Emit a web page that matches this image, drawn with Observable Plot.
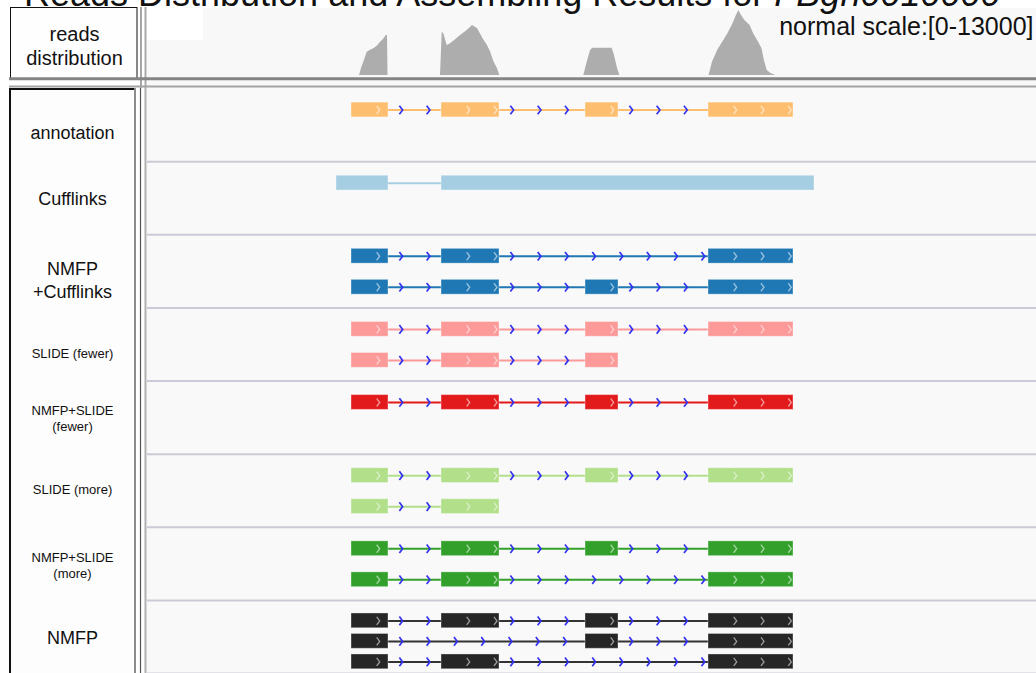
<!DOCTYPE html>
<html><head><meta charset="utf-8">
<script src="https://cdn.jsdelivr.net/npm/d3@7"></script>
<script src="https://cdn.jsdelivr.net/npm/@observablehq/plot@0.6"></script>
<style>
html,body{margin:0;padding:0;background:#fff;}
#wrap{position:relative;width:1036px;height:673px;overflow:hidden;font-family:"Liberation Sans",Arial,Helvetica,sans-serif;}
#title{position:absolute;left:24px;top:-24px;font-size:36px;line-height:36px;white-space:nowrap;color:#111;z-index:2;}
#chart svg{display:block;}
</style></head><body>
<div id="wrap"><div id="title">Reads Distribution and Assembling Results for <i>FBgn0010000</i></div><div id="chart"></div></div>
<script>
// ---- data (genomic positions in bp from region start) ----
const exonStarts = [2040, 2940, 4380, 5610];
const exonEnds   = [2410, 3520, 4710, 6460];
const cufflinksStarts = [1890, 2940];
const cufflinksEnds   = [2410, 6670];
const trackNames = ["annotation", "Cufflinks", "NMFP\n+Cufflinks", "SLIDE (fewer)", "NMFP+SLIDE\n(fewer)", "SLIDE (more)", "NMFP+SLIDE\n(more)", "NMFP"];
// transcripts of each track, as lists of exon indexes
const annotationModels   = [[0, 1, 2, 3]];
const nmfpCufflinks      = [[0, 1, 3], [0, 1, 2, 3]];
const slideFewer         = [[0, 1, 2, 3], [0, 1, 2]];
const nmfpSlideFewer     = [[0, 1, 2, 3]];
const slideMore          = [[0, 1, 2, 3], [0, 1]];
const nmfpSlideMore      = [[0, 1, 2, 3], [0, 1, 3]];
const nmfpModels         = [[0, 1, 2, 3], [0, 2, 3], [0, 1, 3]];
// read coverage
const readsPos = [2120,2140,2163,2197,2230,2263,2300,2330,2360,2387,2400,2405,
  2930,2947,2963,2997,3030,3080,3130,3197,3250,3300,3360,3397,3430,3463,3500,3523,
  4363,4397,4430,4453,4647,4670,4697,4723,
  5615,5650,5701,5752,5804,5855,5889,5913,5940,5974,6026,6060,6111,6145,6169,6197,6231,6282];
const readsDepth = [0,1360,2580,4520,4900,5180,5700,6460,7000,7760,7760,0,
  0,8400,8090,5820,6150,6930,7760,8730,9700,9120,7000,5900,4600,2700,1300,0,
  0,2580,4850,5300,5300,3880,1610,0,
  0,2580,4850,6460,8090,10030,11640,12610,11640,10670,9700,8150,6460,5180,2910,970,450,0];
const scaleMax = 13000;

// ---- styles / layout ----
const trackColors = ["#fdbf6f", "#a6cee3", "#1f78b4", "#fb9a99", "#e31a1c", "#b2df8a", "#33a02c", "#262626"];
const intronColors = ["#fdbf6f", "#a6cee3", "#1f78b4", "#fb9a99", "#e31a1c", "#b2df8a", "#33a02c", "#333333"];
const labelDy = [6.5, 0, 8, 8.5, 0, -1.5, 1.5, 0];
const labelSize = [18, 18, 18, 13, 13, 13, 13, 18];
const labelLead = [1.25, 1.25, 1.28, 1.25, 1.23, 1.25, 1.23, 1.25];
const W = 1036, LEFT = 147, TOPH = 88, BOTH = 585, NT = 8;
const TRACK_PX = BOTH / NT;
const HALF = 7.4 / TRACK_PX;
const xDomain = [0, (W - LEFT) * 10];
const rowY = (t, r, n) => t + ((n > 2 ? 20.5 : 21.5) + r * (n > 2 ? 20.5 : 31)) / TRACK_PX;

// ---- build tables ----
const exonRects = [], introns = [], intronArrows = [], exonArrows = [];
function addTranscript(t, r, n, segs, arrows) {
  const y = rowY(t, r, n);
  segs.forEach(([s, e], i) => {
    exonRects.push({x1: s, x2: e, y, color: trackColors[t]});
    if (arrows) for (let p = s + 267; p < e; p += 273) exonArrows.push({x: p, y});
    if (i < segs.length - 1) {
      const ns = segs[i + 1][0];
      introns.push({x1: e, x2: ns, y, color: intronColors[t]});
      if (arrows) for (let p = e + 125; p < ns; p += 273) intronArrows.push({x: p, y});
    }
  });
}
const models = [annotationModels, null, nmfpCufflinks, slideFewer, nmfpSlideFewer, slideMore, nmfpSlideMore, nmfpModels];
models.forEach((m, t) => {
  if (!m) {
    addTranscript(t, 0, 1, cufflinksStarts.map((s, i) => [s, cufflinksEnds[i]]), false);
    return;
  }
  m.forEach((ids, r) => addTranscript(t, r, m.length, ids.map(i => [exonStarts[i], exonEnds[i]]), true));
});
const reads = readsPos.map((p, i) => ({pos: p, depth: readsDepth[i]}));

const chevron = {draw(ctx, size) {
  const r = Math.sqrt(size / Math.PI);
  ctx.moveTo(-r * 0.38, -r); ctx.lineTo(r * 0.38, 0); ctx.lineTo(-r * 0.38, r);
}};
const font = '"Liberation Sans", Arial, Helvetica, sans-serif';

// ---- top panel: reads distribution ----
const topPlot = Plot.plot({
  width: W, height: TOPH, marginLeft: LEFT, marginRight: 0, marginTop: 8, marginBottom: 13,
  x: {domain: xDomain, axis: null},
  y: {domain: [0, scaleMax], axis: null},
  style: {background: "transparent", fontFamily: font, overflow: "visible"},
  marks: [
    Plot.areaY(reads, {x: "pos", y: "depth", fill: "#adadad", curve: "linear"}),
    Plot.text(["reads\ndistribution"], {text: d => d, frameAnchor: "left", textAnchor: "middle", dx: -73, dy: 3.5, fontSize: 20, lineHeight: 1.2, fill: "#111"}),
    Plot.text([`normal scale:[0-${scaleMax}]`], {text: d => d, frameAnchor: "top-right", lineAnchor: "middle", textAnchor: "end", dx: -3, dy: 18, fontSize: 25, fill: "#111"})
  ]
});

// ---- bottom panel: assembled transcripts ----
const labelMark = (idx) => Plot.text(idx, {
  y: i => i + 0.5 + labelDy[i] / TRACK_PX, text: i => trackNames[i],
  frameAnchor: "left", textAnchor: "middle", dx: -75,
  fontSize: labelSize[idx[0]], lineHeight: labelLead[idx[0]], fill: "#111"
});
const bottomPlot = Plot.plot({
  width: W, height: BOTH, marginLeft: LEFT, marginRight: 0, marginTop: 0, marginBottom: 0,
  x: {domain: xDomain, axis: null},
  y: {domain: [0, NT], range: [0, BOTH], axis: null},
  color: {type: "identity"},
  style: {background: "transparent", fontFamily: font, overflow: "visible"},
  marks: [
    Plot.ruleY(d3.range(1, NT + 1), {stroke: "#cbcbd7", strokeWidth: 2}),
    Plot.ruleY(introns, {y: "y", x1: "x1", x2: "x2", stroke: d => d.color, strokeWidth: 2}),
    Plot.rect(exonRects, {x1: "x1", x2: "x2", y1: d => d.y - HALF, y2: d => d.y + HALF, fill: d => d.color, stroke: "#ffffff", strokeOpacity: 0.35, strokeWidth: 1}),
    Plot.dot(intronArrows, {x: "x", y: "y", symbol: chevron, r: 4.3, fill: "none", stroke: "#3232f0", strokeWidth: 1.7}),
    Plot.dot(exonArrows, {x: "x", y: "y", symbol: chevron, r: 4.0, fill: "none", stroke: "#ffffff", strokeOpacity: 0.55, strokeWidth: 1.3}),
    labelMark([0]), labelMark([1]), labelMark([2]), labelMark([7]),
    labelMark([3]), labelMark([4]), labelMark([5]), labelMark([6])
  ]
});

// ---- panel decorations (frames, backgrounds, separators) ----
function decorate(svg, draw) {
  const g = d3.create("svg:g");
  draw(g);
  const style = svg.querySelector("style");
  svg.insertBefore(g.node(), style ? style.nextSibling : svg.firstChild);
}
const line = (g, x1, y1, x2, y2, c, w) => g.append("line").attr("x1", x1).attr("y1", y1).attr("x2", x2).attr("y2", y2).attr("stroke", c).attr("stroke-width", w);
decorate(topPlot, g => {
  g.append("rect").attr("x", LEFT).attr("y", 8).attr("width", W - LEFT).attr("height", 80).attr("fill", "#f8f8f8");
  g.append("rect").attr("x", LEFT).attr("y", 8).attr("width", 56).attr("height", 32).attr("fill", "#ffffff");
  g.append("rect").attr("x", 10.5).attr("y", 7.5).attr("width", 126.5).attr("height", 71).attr("fill", "#fefefe").attr("stroke", "#111").attr("stroke-width", 1);
  line(g, 141, 7, 141, 88, "#6a6a6a", 1.2);
  line(g, 145.5, 7, 145.5, 88, "#a8a8a8", 2);
  line(g, 9, 78.8, W, 78.8, "#858585", 3);
  line(g, 9, 86.5, W, 86.5, "#a4a4a4", 2);
});
decorate(bottomPlot, g => {
  g.append("rect").attr("x", LEFT).attr("y", 0).attr("width", W - LEFT).attr("height", BOTH).attr("fill", "#f9f9f9");
  g.append("rect").attr("x", 10).attr("y", 0).attr("width", 125).attr("height", BOTH).attr("fill", "#fdfdfd");
  line(g, 10, 0, 10, BOTH, "#111", 2);
  line(g, 9, 1, 135, 1, "#111", 2);
  line(g, 135, 0, 135, BOTH, "#8c8c8c", 2);
  line(g, 140.5, 0, 140.5, BOTH, "#555", 1.2);
  line(g, 145.5, 0, 145.5, BOTH, "#b0b0b0", 2);
});

const chart = document.getElementById("chart");
chart.appendChild(topPlot);
chart.appendChild(bottomPlot);
</script></body></html>
